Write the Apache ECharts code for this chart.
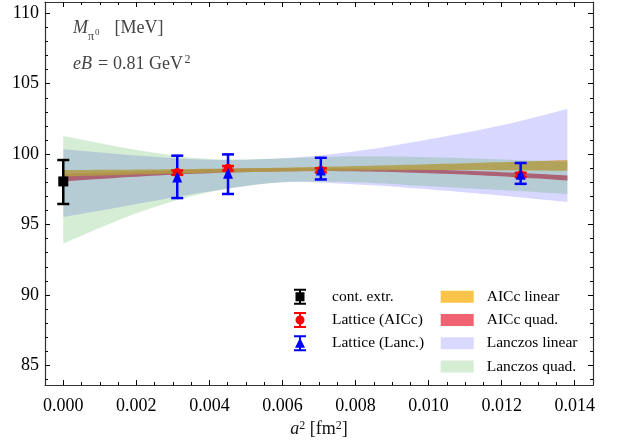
<!DOCTYPE html>
<html>
<head>
<meta charset="utf-8">
<script src="https://cdn.jsdelivr.net/npm/echarts@6/dist/echarts.min.js"></script>
<style>
  html, body { margin: 0; padding: 0; background: #fff; }
  #chart { width: 627px; height: 443px; }
</style>
</head>
<body>
<div id="chart"></div>
<script>
// ticks
const xMajor = [0, 0.002, 0.004, 0.006, 0.008, 0.010, 0.012, 0.014];
const xMinor = [0.0005, 0.001, 0.0015, 0.0025, 0.003, 0.0035, 0.0045, 0.005, 0.0055, 0.0065, 0.007, 0.0075,
  0.0085, 0.009, 0.0095, 0.0105, 0.011, 0.0115, 0.0125, 0.013, 0.0135];
const yMajor = [85, 90, 95, 100, 105, 110];
const yMinor = [84, 86, 87, 88, 89, 91, 92, 93, 94, 96, 97, 98, 99, 101, 102, 103, 104, 106, 107, 108, 109];

// data points
const contX = [0];
const contY = [98.06];
const contLo = [96.46];
const contHi = [99.58];

const latX = [0.00312, 0.00451, 0.00705, 0.01252];
const aiccY = [98.69, 98.99, 98.85, 98.52];
const aiccLo = [98.53, 98.83, 98.70, 98.37];
const aiccHi = [98.84, 99.15, 99.00, 98.67];
const lancY = [98.38, 98.64, 98.87, 98.57];
const lancLo = [96.88, 97.17, 98.20, 97.89];
const lancHi = [99.89, 99.98, 99.74, 99.37];

// fit bands
const bandX = [0, 0.002, 0.004, 0.006, 0.008, 0.010, 0.012, 0.0138];
const aiccLinLo = [98.41, 98.55, 98.67, 98.76, 98.83, 98.87, 98.86, 98.81];
const aiccLinHi = [98.87, 98.90, 98.96, 99.04, 99.15, 99.28, 99.43, 99.58];
const aiccQuadLo = [98.06, 98.40, 98.65, 98.78, 98.78, 98.65, 98.42, 98.13];
const aiccQuadHi = [98.60, 98.75, 98.92, 99.00, 98.98, 98.90, 98.72, 98.48];
const lancLinLo = [95.53, 96.45, 97.35, 98.00, 97.85, 97.50, 97.05, 96.60];
const lancLinHi = [100.35, 99.90, 99.60, 99.70, 100.20, 101.05, 102.05, 103.20];
const lancQuadLo = [93.65, 95.80, 97.30, 98.00, 98.00, 97.72, 97.45, 97.17];
const lancQuadHi = [101.29, 100.30, 99.65, 99.70, 99.85, 99.78, 99.62, 99.45];

const FONT = '"Liberation Serif", "Times New Roman", serif';

// smooth pixel path through points (catmull-rom), drawing only
function smoothPts(pts) {
  const out = [];
  const n = pts.length;
  for (let i = 0; i < n - 1; i++) {
    const p0 = pts[Math.max(i - 1, 0)], p1 = pts[i], p2 = pts[i + 1], p3 = pts[Math.min(i + 2, n - 1)];
    for (let k = 0; k < 10; k++) {
      const t = k / 10, t2 = t * t, t3 = t2 * t;
      out.push([0, 1].map(d => 0.5 * ((2 * p1[d]) + (-p0[d] + p2[d]) * t +
        (2 * p0[d] - 5 * p1[d] + 4 * p2[d] - p3[d]) * t2 + (-p0[d] + 3 * p1[d] - 3 * p2[d] + p3[d]) * t3)));
    }
  }
  out.push(pts[n - 1]);
  return out;
}

function band(name, lo, hi, color) {
  return {
    type: 'custom', name: name, silent: true, clip: true,
    encode: { x: 0, y: [1, 2] },
    itemStyle: { color: color },
    data: bandX.map((x, i) => [x, lo[i], hi[i]]),
    renderItem: function (params, api) {
      if (params.dataIndex !== 0) return null;
      const top = bandX.map((x, i) => api.coord([x, hi[i]]));
      const bot = bandX.map((x, i) => api.coord([x, lo[i]]));
      const pts = smoothPts(top).concat(smoothPts(bot).reverse());
      return { type: 'polygon', shape: { points: pts }, style: { fill: color, stroke: null } };
    }
  };
}

function errorBar(name, xs, lo, hi, color) {
  return {
    type: 'custom', name: name, silent: true,
    encode: { x: 0, y: [1, 2] },
    data: xs.map((x, i) => [x, lo[i], hi[i]]),
    itemStyle: { color: color },
    renderItem: function (params, api) {
      const x = api.value(0);
      const top = api.coord([x, api.value(2)]);
      const bot = api.coord([x, api.value(1)]);
      const hw = 6;
      const st = { stroke: color, lineWidth: 2.5 };
      return {
        type: 'group',
        children: [
          { type: 'line', shape: { x1: top[0], y1: top[1], x2: bot[0], y2: bot[1] }, style: st },
          { type: 'line', shape: { x1: top[0] - hw, y1: top[1], x2: top[0] + hw, y2: top[1] }, style: st },
          { type: 'line', shape: { x1: bot[0] - hw, y1: bot[1], x2: bot[0] + hw, y2: bot[1] }, style: st }
        ]
      };
    }
  };
}

function marker(name, xs, ys, symbol, size, color) {
  return {
    type: 'scatter', name: name, symbol: symbol, symbolSize: size, silent: true,
    itemStyle: { color: color, opacity: 1 },
    data: xs.map((x, i) => [x, ys[i]])
  };
}

const axisLineStyle = { color: '#333', width: 1.2 };

function xAx(pos, ticks, len, showLine, showLabel) {
  return {
    type: 'value', position: pos, min: -0.0005, max: 0.0145,
    axisLine: { show: showLine, onZero: false, lineStyle: axisLineStyle },
    axisTick: { show: true, inside: true, length: len, customValues: ticks, lineStyle: { color: '#000', width: 1 } },
    axisLabel: showLabel ? {
      show: true, customValues: ticks, margin: 12, color: '#000',
      fontFamily: FONT, fontSize: 18, formatter: v => v.toFixed(3)
    } : { show: false },
    splitLine: { show: false }
  };
}

function yAx(pos, ticks, len, showLine, showLabel) {
  return {
    type: 'value', position: pos, min: 83.6, max: 110.8,
    axisLine: { show: showLine, onZero: false, lineStyle: axisLineStyle },
    axisTick: { show: true, inside: true, length: len, customValues: ticks, lineStyle: { color: '#000', width: 1 } },
    axisLabel: showLabel ? {
      show: true, customValues: ticks, margin: 6, color: '#000',
      fontFamily: FONT, fontSize: 18, formatter: v => String(v)
    } : { show: false },
    splitLine: { show: false }
  };
}

const xAxes = [xAx('bottom', xMajor, 5, true, true), xAx('bottom', xMinor, 3, false, false),
  xAx('top', xMajor, 5, true, false), xAx('top', xMinor, 3, false, false)];
xAxes[0].name = '{i|a}{s|2} [fm{s|2}]';
xAxes[0].nameLocation = 'middle';
xAxes[0].nameGap = 31;
xAxes[0].nameTextStyle = {
  fontFamily: FONT, fontSize: 18, color: '#111',
  rich: {
    i: { fontFamily: FONT, fontSize: 18, fontStyle: 'italic', color: '#111' },
    s: { fontFamily: FONT, fontSize: 12, color: '#111', verticalAlign: 'top', padding: [0, 0, 6, 0] }
  }
};

const yAxes = [yAx('left', yMajor, 5, true, true), yAx('left', yMinor, 3, false, false),
  yAx('right', yMajor, 5, true, false), yAx('right', yMinor, 3, false, false)];

const colOrange = 'rgba(250,185,40,0.85)';
const colRed = 'rgba(238,72,88,0.85)';
const colLav = 'rgba(0,0,255,0.155)';
const colGreen = 'rgba(44,160,44,0.2)';

const series = [
  band('AICc quad.', aiccQuadLo, aiccQuadHi, colRed),
  band('AICc linear', aiccLinLo, aiccLinHi, colOrange),
  band('Lanczos linear', lancLinLo, lancLinHi, colLav),
  band('Lanczos quad.', lancQuadLo, lancQuadHi, colGreen),
  errorBar('cont. extr.', contX, contLo, contHi, '#000'),
  marker('cont. extr.', contX, contY, 'rect', 10, '#000'),
  errorBar('Lattice (AICc)', latX, aiccLo, aiccHi, '#ff0000'),
  marker('Lattice (AICc)', latX, aiccY, 'circle', 9, '#ff0000'),
  errorBar('Lattice (Lanc.)', latX, lancLo, lancHi, '#0000ff'),
  marker('Lattice (Lanc.)', latX, lancY, 'triangle', [10, 11], '#0000ff')
];

const capsPath = 'M0,0H12V2H0Z M5,0H7V16H5Z M0,14H12V16H0Z ';
const iconSquare = 'path://' + capsPath + 'M1.5,3.5H10.5V12.5H1.5Z';
const iconCircle = 'path://' + capsPath + 'M1.5,8A4.5,4.5,0,1,1,10.5,8A4.5,4.5,0,1,1,1.5,8Z';
const iconTri = 'path://' + capsPath + 'M6,2.5L11,12.5H1Z';

const legendText = { fontFamily: FONT, fontSize: 15.5, color: '#000', lineHeight: 16 };

function label(text, x, y, size, italic) {
  return {
    type: 'text', x: x, y: y, silent: true,
    style: {
      text: text, fontFamily: FONT, fontSize: size, fontStyle: italic ? 'italic' : 'normal',
      fill: '#444', verticalAlign: 'middle', align: 'left'
    }
  };
}

const chart = echarts.init(document.getElementById('chart'), null, { renderer: 'canvas' });
chart.setOption({
  animation: false,
  backgroundColor: '#fff',
  grid: { left: 45, right: 34, top: 2, bottom: 56, containLabel: false },
  xAxis: xAxes,
  yAxis: yAxes,
  legend: [
    {
      orient: 'vertical', left: 294, top: 288.7, itemWidth: 12, itemHeight: 16, itemGap: 7.3,
      selectedMode: false, padding: 0,
      textStyle: Object.assign({ padding: [0, 0, 0, 21] }, legendText),
      data: [
        { name: 'cont. extr.', icon: iconSquare, itemStyle: { color: '#000' } },
        { name: 'Lattice (AICc)', icon: iconCircle, itemStyle: { color: '#ff0000' } },
        { name: 'Lattice (Lanc.)', icon: iconTri, itemStyle: { color: '#0000ff' } }
      ]
    },
    {
      orient: 'vertical', left: 440.7, top: 288.7, itemWidth: 33, itemHeight: 12, itemGap: 7.3,
      selectedMode: false, padding: 0,
      textStyle: Object.assign({ padding: [0, 0, 0, 8] }, legendText),
      data: [
        { name: 'AICc linear', icon: 'rect', itemStyle: { color: 'rgb(251,195,72)' } },
        { name: 'AICc quad.', icon: 'rect', itemStyle: { color: 'rgb(240,99,113)' } },
        { name: 'Lanczos linear', icon: 'rect', itemStyle: { color: 'rgb(217,217,255)' } },
        { name: 'Lanczos quad.', icon: 'rect', itemStyle: { color: 'rgb(213,236,213)' } }
      ]
    }
  ],
  graphic: [
    label('M', 73, 28.2, 18, true),
    label('π', 88, 36.6, 12, false),
    label('0', 95, 33, 9, false),
    label('[MeV]', 114.5, 28.2, 18, false),
    label('eB', 73, 64.6, 18, true),
    label('=', 98, 64.6, 18, false),
    label('0.81', 113, 64.6, 18, false),
    label('GeV', 149, 64.6, 18, false),
    label('2', 184.5, 60, 12, false)
  ],
  series: series
});
</script>
</body>
</html>
